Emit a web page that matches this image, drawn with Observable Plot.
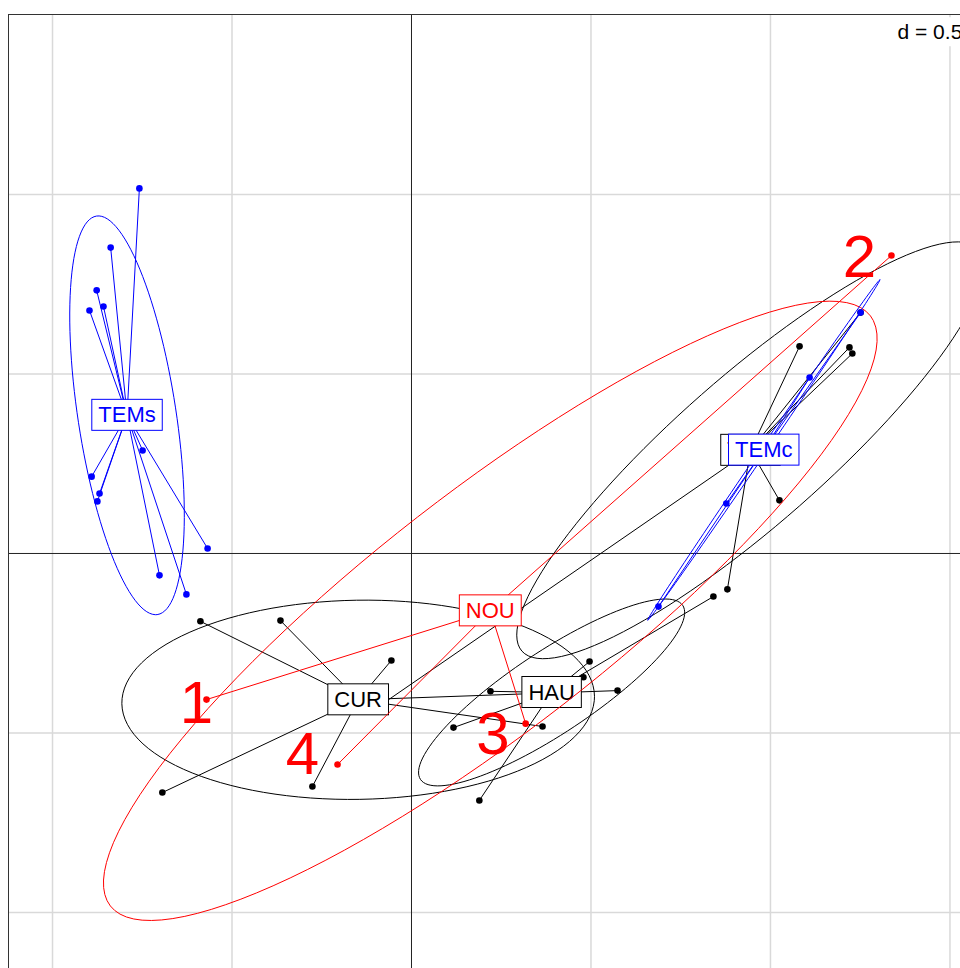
<!DOCTYPE html>
<html>
<head>
<meta charset="utf-8">
<script src="https://cdn.jsdelivr.net/npm/d3@7"></script>
<script src="https://cdn.jsdelivr.net/npm/@observablehq/plot@0.6"></script>
<style>
html, body { margin: 0; padding: 0; background: #fff; overflow: hidden; }
#chart { width: 960px; height: 968px; overflow: hidden; }
</style>
</head>
<body>
<div id="chart"></div>
<script>
// ---- data (first two principal axes, d = 0.5 grid) ----
const gridX = [-1, -0.5, 0.5, 1, 1.5];
const gridY = [-1, -0.5, 0.5, 1];
const gridLabel = "d = 0.5";

// black factor
const curX = [-0.588, -0.365, -0.056, -0.694, -0.276, 0.365, 0.574];
const curY = [-0.189, -0.187, -0.298, -0.666, -0.649, -0.482, -0.382];
const hauX = [0.496, 0.479, 0.220, 0.117, 0.189, 0.841];
const hauY = [-0.301, -0.345, -0.384, -0.485, -0.688, -0.120];
const temX = [1.081, 1.220, 1.228, 1.025, 0.880, 1.251, -0.075];
const temY = [0.577, 0.574, 0.557, 0.148, -0.100, 0.671, -0.415];

// red factor
const nouX = [-0.571, 1.337, 0.318, -0.206];
const nouY = [-0.407, 0.830, -0.474, -0.588];
const nouLabels = ["1", "2", "3", "4"];
const nouLabelX = [-0.599, 1.248, 0.227, -0.304];
const nouLabelY = [-0.418, 0.825, -0.504, -0.560];

// blue factor
const temsX = [-0.758, -0.838, -0.877, -0.858, -0.897, -0.749, -0.891, -0.869, -0.875, -0.568, -0.702, -0.627];
const temsY = [1.017, 0.852, 0.733, 0.688, 0.677, 0.287, 0.214, 0.167, 0.145, 0.014, -0.061, -0.114];
const temcX = [1.251, 1.109, 0.877, 0.688];
const temcY = [0.671, 0.490, 0.139, -0.148];

const layers = [
  {color: "#000000", groups: [["CUR", curX, curY], ["HAU", hauX, hauY], ["TEM", temX, temY]]},
  {color: "#FF0000", groups: [["NOU", nouX, nouY]], digits: true},
  {color: "#0000FF", groups: [["TEMs", temsX, temsY], ["TEMc", temcX, temcY]]}
];

// ---- helpers ----
function ellipsePts(name, xs, ys, k = 1.5, n = 120) {
  const m = xs.length, mx = d3.mean(xs), my = d3.mean(ys);
  let vx = 0, vy = 0, cxy = 0;
  for (let i = 0; i < m; i++) {
    const dx = xs[i] - mx, dy = ys[i] - my;
    vx += dx * dx / m; vy += dy * dy / m; cxy += dx * dy / m;
  }
  const h = (vx + vy) / 2, s = Math.sqrt(((vx - vy) / 2) ** 2 + cxy * cxy);
  const l1 = Math.max(h + s, 0), l2 = Math.max(h - s, 0);
  const th = 0.5 * Math.atan2(2 * cxy, vx - vy);
  const a = k * Math.sqrt(l1), b = k * Math.sqrt(l2);
  const out = [];
  for (let j = 0; j < n; j++) {
    const t = 2 * Math.PI * j / n;
    out.push({group: name,
      x: mx + a * Math.cos(t) * Math.cos(th) - b * Math.sin(t) * Math.sin(th),
      y: my + a * Math.cos(t) * Math.sin(th) + b * Math.sin(t) * Math.cos(th)});
  }
  return out;
}

const labelColor = new Map();
const marks = [
  Plot.ruleX(gridX, {stroke: "#d9d9d9", strokeWidth: 1.5}),
  Plot.ruleY(gridY, {stroke: "#d9d9d9", strokeWidth: 1.5}),
  Plot.ruleX([0], {stroke: "#222", strokeWidth: 1}),
  Plot.ruleY([0], {stroke: "#222", strokeWidth: 1})
];

for (const layer of layers) {
  const pts = [], ells = [], cents = [];
  for (const [name, xs, ys] of layer.groups) {
    const cx = d3.mean(xs), cy = d3.mean(ys);
    cents.push({group: name, x: cx, y: cy});
    labelColor.set(name, layer.color);
    xs.forEach((x, i) => pts.push({group: name, x, y: ys[i], cx, cy}));
    ells.push(...ellipsePts(name, xs, ys));
  }
  marks.push(Plot.link(pts, {x1: "cx", y1: "cy", x2: "x", y2: "y", stroke: layer.color, strokeWidth: 1}));
  marks.push(Plot.line(ells, {x: "x", y: "y", z: "group", stroke: layer.color, strokeWidth: 1, curve: "linear-closed"}));
  marks.push(Plot.dot(pts, {x: "x", y: "y", r: 3.3, fill: layer.color}));
  if (layer.digits) {
    const dig = nouLabels.map((t, i) => ({t, x: nouLabelX[i], y: nouLabelY[i]}));
    marks.push(Plot.text(dig, {x: "x", y: "y", text: "t", fill: layer.color, fontSize: 60}));
  }
  marks.push(Plot.text(cents, {x: "x", y: "y", text: "group", fill: layer.color, fontSize: 22}));
}

marks.push(Plot.frame({stroke: "#333", strokeWidth: 1}));
marks.push(Plot.text([gridLabel], {frameAnchor: "top-right", textAnchor: "start", lineAnchor: "middle",
  dx: -74, dy: 18, fontSize: 21, fill: "#000"}));

const chart = Plot.plot({
  width: 980, height: 985,
  marginLeft: 8, marginTop: 14, marginRight: 9, marginBottom: 8,
  x: {domain: [-1.1226, 1.56], axis: null},
  y: {domain: [-1.1812, 1.5014], axis: null},
  style: {fontFamily: "'Liberation Sans', Arial, sans-serif", background: "white", maxWidth: "none"},
  marks
});
document.getElementById("chart").appendChild(chart);

// white boxes behind labels (class labels get a coloured border)
const NS = "http://www.w3.org/2000/svg";
chart.querySelectorAll("text").forEach(t => {
  const txt = t.textContent;
  const isClass = labelColor.has(txt);
  const isD = txt === gridLabel;
  if (!isClass && !isD) return;
  const b = t.getBBox();
  const r = document.createElementNS(NS, "rect");
  if (isClass) {
    const cy = b.y + b.height / 2;
    r.setAttribute("x", b.x - 6.5);
    r.setAttribute("y", cy - 15.5);
    r.setAttribute("width", b.width + 13);
    r.setAttribute("height", 31);
    r.setAttribute("fill", "white");
    r.setAttribute("stroke", labelColor.get(txt));
    r.setAttribute("stroke-width", 1);
  } else {
    r.setAttribute("x", b.x - 6);
    r.setAttribute("y", b.y - 3);
    r.setAttribute("width", b.width + 12);
    r.setAttribute("height", b.height + 6);
    r.setAttribute("fill", "white");
  }
  if (t.getAttribute("transform")) r.setAttribute("transform", t.getAttribute("transform"));
  t.parentNode.insertBefore(r, t);
});
</script>
</body>
</html>
